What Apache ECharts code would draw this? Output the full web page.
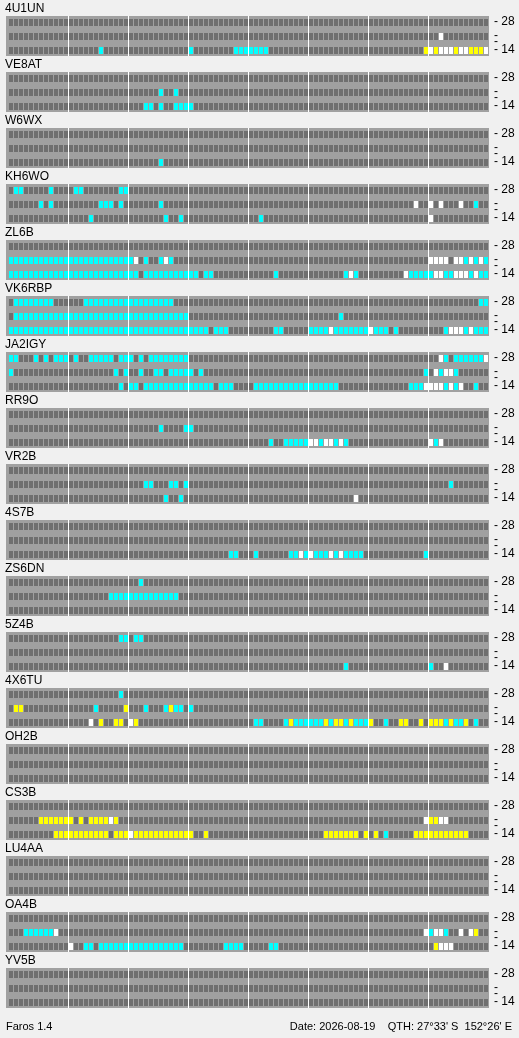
<!DOCTYPE html>
<html>
<head>
<meta charset="utf-8">
<title>Faros</title>
<script src="https://cdn.jsdelivr.net/npm/echarts@6/dist/echarts.min.js"></script>
<style>
  html, body { margin: 0; padding: 0; background: #f0f0f0; }
  #main { width: 519px; height: 1038px; }
</style>
</head>
<body>
<div id="main"></div>
<script type="text/javascript">
    // beacons, top to bottom
    var stations = ['4U1UN', 'VE8AT', 'W6WX', 'KH6WO', 'ZL6B', 'VK6RBP', 'JA2IGY', 'RR9O', 'VR2B',
                    '4S7B', 'ZS6DN', '5Z4B', '4X6TU', 'OH2B', 'CS3B', 'LU4AA', 'OA4B', 'YV5B'];
    var bands = [28, 21, 14];
    var bandTicks = [14, 18, 21, 28];
    var bandLabels = [14, 28];
    var hourLines = [3, 6, 9, 12, 15, 18, 21];

    // 96 slots per day (15 min); c = cyan, y = yellow, w = white, rest not heard
    var band28 = [
        '',
        '',
        '',
        'c1-2 c8 c13-14 c22-23',
        '',
        'c1-8 c15-32 c94-95',
        'c0-1 c5 c7 c9-11 c13 c16-20 c22-24 c26 c28-35 w86 c87 c89-94 w95',
        '',
        '',
        '',
        'c26',
        'c22-23 c25-26',
        'c22',
        '',
        '',
        '',
        '',
        ''
    ];
    var band21 = [
        'w86',
        'c30 c33',
        '',
        'c6 c8 c18-20 c22 c30 w81 w84 w86 w90 c93',
        'c0-24 w25 c27 c30 w31 c32 w84-87 w89-90 c91 w92 c93 w94 c95',
        'c1-35 c66',
        'c0 c21 c23 c26 c29-30 c32-36 c38 c83 w85 c86 w87-88 c89',
        'c30 c35-36',
        'c27-28 c32-33 c35 c88',
        '',
        'c20-33',
        '',
        'y1-2 c17 y23 c27 c31 y32 c33-34 c36',
        '',
        'y6-12 y14 y16-19 w20 y21 w83 y84-85 w86-87',
        '',
        'c3-8 w9 w83 c84 w85-86 c87 w90 w92 y93',
        ''
    ];
    var band14 = [
        'c18 c36 c45-51 y83 w84 y85 w86-88 y89 w90-91 y92-94 w95',
        'c27-28 c30 c33-36',
        'c30',
        'c16 c31 c34 c50 w84',
        'c0-25 c27-37 c39-40 c53 c67 w68 c69 w79 c80-84 w85-86 c87-88 w89-91 c92 w93 c94-95',
        'c0-39 c41-43 c53-54 c60-63 w64 c65-71 w72 c73-75 c77 c87 w88-90 c91 w92 c93-95',
        'c22 c24-25 c27-40 c42-44 c49-65 c80-82 w83-86 c87 w88 c89 w90 c93',
        'c52 c55-59 w60-61 c62 w63-64 c65 w66 c67 w84 c85 w86',
        'c31 c34 w69',
        'c44-45 c49 c56-57 w58 c59 w60 c61-63 w64 c65 w66 c67-70 c83',
        '',
        'c67 c84 w87',
        'w16 y18 y21-22 w24 y25 c49-50 c55 y56 c57-62 y63 c64 y65-66 c67 y68 c69-71 y72 c75 y78-79 y82 y84-86 c87 y88 c89-90 y91 c93',
        '',
        'y9-19 y21-23 w24 y25-36 y39 y63-69 y71 y73 c75 y81-91',
        '',
        'w12 c15-16 c18-34 c43-46 c52-53 y85 w86-88',
        ''
    ];

    var cellColors = ['#6f6f6f', '#00ffff', '#ffff00', '#ffffff'];
    var FONT = '"Liberation Sans", Arial, sans-serif';

    function parseSlots(str) {
        var out = [];
        for (var i = 0; i < 96; i++) out.push(0);
        str.split(' ').forEach(function (tok) {
            if (!tok) return;
            var code = {c: 1, y: 2, w: 3}[tok[0]];
            var r = tok.slice(1).split('-');
            var a = +r[0], b = r.length > 1 ? +r[1] : a;
            for (var k = a; k <= b; k++) out[k] = code;
        });
        return out;
    }

    function renderCell(params, api) {
        var pt = api.coord([api.value(0), api.value(1)]);
        var sz = api.size([0.8, 0]);
        return {
            type: 'rect',
            shape: {x: Math.round(pt[0]), y: Math.round(pt[1] - 3.5), width: Math.round(sz[0]), height: 7},
            style: {fill: cellColors[api.value(2)]}
        };
    }

    // tick dash on every band tick, number only on 28 and 14
    function bandLabel(v) {
        if (bandTicks.indexOf(v) < 0) return '';
        return bandLabels.indexOf(v) >= 0 ? '- ' + v : '-';
    }

    var option = {
        backgroundColor: '#f0f0f0',
        animation: false,
        title: [], grid: [], xAxis: [], yAxis: [], series: [],
        graphic: [
            {type: 'text', left: 6, top: 1021, style: {text: 'Faros 1.4', font: '11px ' + FONT, fill: '#000'}},
            {type: 'text', right: 7, top: 1021,
             style: {text: 'Date: 2026-08-19    QTH: 27°33\' S  152°26\' E', font: '11px ' + FONT, fill: '#000'}}
        ]
    };

    stations.forEach(function (name, p) {
        var rows = [band28[p], band21[p], band14[p]];
        var data = [];
        rows.forEach(function (str, b) {
            parseSlots(str).forEach(function (code, i) {
                data.push([i, bands[b], code]);
            });
        });

        option.title.push({
            text: name, left: 5, top: 56 * p + 3, padding: 0,
            textStyle: {fontSize: 12, fontWeight: 'normal', color: '#000', fontFamily: FONT}
        });
        option.grid.push({
            left: 6, top: 16 + 56 * p, width: 483, height: 40,
            show: true, backgroundColor: '#a0a0a0', borderWidth: 0
        });
        option.xAxis.push({
            gridIndex: p, type: 'value', min: -0.6, max: 96, show: false
        });
        option.yAxis.push({
            gridIndex: p, type: 'value', position: 'right', min: 11, max: 31, interval: 1,
            axisLine: {show: false},
            splitLine: {show: false},
            axisTick: {show: false},
            axisLabel: {
                margin: 5, color: '#000', fontSize: 12, fontFamily: FONT,
                showMinLabel: true, showMaxLabel: true, hideOverlap: false,
                formatter: bandLabel
            }
        });
        option.series.push({
            type: 'custom',
            xAxisIndex: p, yAxisIndex: p,
            renderItem: renderCell,
            data: data,
            silent: true,
            markLine: {
                silent: true,
                symbol: ['none', 'none'],
                label: {show: false},
                lineStyle: {color: '#ffffff', width: 1, type: 'solid'},
                data: hourLines.map(function (h) { return {xAxis: h * 4 - 0.1}; })
            }
        });
    });

    var myChart = echarts.init(document.getElementById('main'));
    myChart.setOption(option);
</script>
</body>
</html>
